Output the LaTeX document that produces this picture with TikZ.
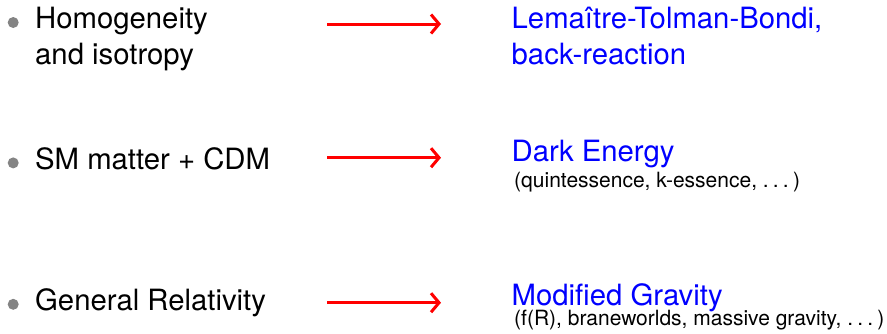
\documentclass[tikz,border=0pt]{standalone}
\usepackage{fontspec}
\setmainfont{TeX Gyre Heros}
\usetikzlibrary{arrows.meta}
\definecolor{bulletgray}{RGB}{132,132,132}
\definecolor{titleblue}{RGB}{0,0,255}
\definecolor{arrowred}{RGB}{255,0,0}
\newcommand{\spdots}{.\kern0.2em.\kern0.2em.\kern0.2em}
\tikzset{
  x=1pt, y=-1pt,
  bigtext/.style={anchor=base west, inner sep=0pt, font=\fontsize{29.3}{36}\selectfont, align=left},
  bluetext/.style={bigtext, text=titleblue},
  smalltext/.style={anchor=base west, inner sep=0pt, font=\fontsize{21}{25}\selectfont},
  bulletdot/.style={circle, fill=bulletgray, inner sep=0pt, minimum size=11pt},
  redarrow/.style={draw=arrowred, line width=3pt, -{Straight Barb[length=8pt, width=19pt, line width=3pt]}}
}
\begin{document}
\begin{tikzpicture}
\useasboundingbox (0,0) rectangle (887,333);
% row 1
\node[bulletdot] (b1) at (13.2,22.5) {};
\node[bigtext] (l1) at (35,64.3) {Homogeneity\\and isotropy};
\coordinate (a1s) at (327,24);
\coordinate (a1e) at (441,24);
\draw[redarrow] (a1s) -- (a1e);
\node[bluetext] (r1) at (511.5,64.8) {Lemaître-Tolman-Bondi,\\back-reaction};
% row 2
\node[bulletdot] (b2) at (13.2,162.9) {};
\node[bigtext] (l2) at (35,169.3) {SM matter + CDM};
\coordinate (a2s) at (327,157.7);
\coordinate (a2e) at (441,157.7);
\draw[redarrow] (a2s) -- (a2e);
\node[bluetext] (r2) at (511.5,161.7) {Dark Energy};
\node[smalltext] (s2) at (514,187) {(quintessence, k-essence, \spdots)};
% row 3
\node[bulletdot] (b3) at (13.2,304.3) {};
\node[bigtext] (l3) at (35,310) {General Relativity};
\coordinate (a3s) at (327,302.7);
\coordinate (a3e) at (441,302.7);
\draw[redarrow] (a3s) -- (a3e);
\node[bluetext] (r3) at (511.5,305) {Modified Gravity};
\node[smalltext] (s3) at (514,325.8) {(f(R), braneworlds, massive gravity, \spdots)};
\end{tikzpicture}
\end{document}
